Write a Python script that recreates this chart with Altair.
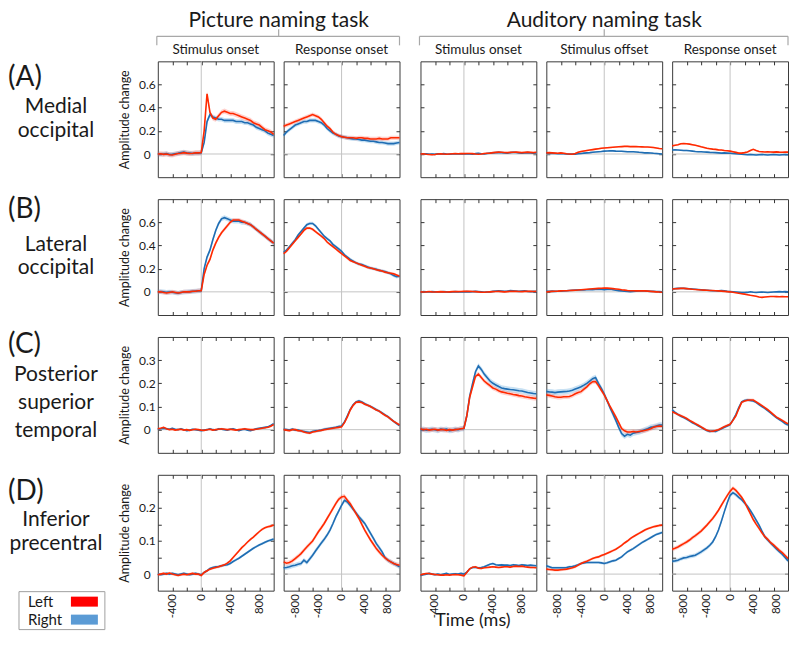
import altair as alt
import pandas as pd

# ---------------- time axes ----------------
T_STIM = list(range(-600, 1001, 40))   # stimulus-onset locked panels
T_LOCK = list(range(-1000, 1001, 50))  # offset / response locked panels

# ---------------- Row A : Medial occipital ----------------
A1_LEFT = [0.0, 0.002, -0.003, 0.0, -0.006, -0.008, -0.002, 0.004, 0.006, 0.012, 0.008, 0.005, 0.006, 0.01, 0.01, 0.012,
           0.2, 0.52, 0.36, 0.31, 0.30, 0.33, 0.36, 0.37, 0.36, 0.35, 0.35, 0.34, 0.33, 0.32, 0.31, 0.30, 0.29, 0.27, 0.26, 0.25, 0.23, 0.21, 0.20, 0.19, 0.17]
A1_RIGHT = [0.0, -0.002, 0.0, 0.003, -0.004, -0.003, 0.002, 0.006, 0.012, 0.016, 0.01, 0.008, 0.004, 0.008, 0.008, 0.01,
            0.1, 0.28, 0.34, 0.32, 0.31, 0.30, 0.30, 0.29, 0.29, 0.29, 0.29, 0.28, 0.28, 0.28, 0.27, 0.27, 0.26, 0.25, 0.23, 0.22, 0.21, 0.20, 0.18, 0.17, 0.16]
A2_LEFT = [0.24, 0.25, 0.26, 0.27, 0.28, 0.29, 0.30, 0.31, 0.32, 0.33, 0.34,
           0.33, 0.32, 0.30, 0.27, 0.24, 0.22, 0.19, 0.17, 0.16, 0.15,
           0.145, 0.14, 0.14, 0.14, 0.135, 0.14, 0.14, 0.135, 0.135, 0.13, 0.13, 0.13, 0.135, 0.13, 0.13, 0.13, 0.14, 0.14, 0.14, 0.14]
A2_RIGHT = [0.16, 0.19, 0.21, 0.23, 0.25, 0.26, 0.27, 0.28, 0.28, 0.29, 0.29,
            0.29, 0.28, 0.27, 0.25, 0.22, 0.20, 0.18, 0.17, 0.155, 0.15,
            0.145, 0.14, 0.135, 0.13, 0.13, 0.125, 0.12, 0.12, 0.115, 0.11, 0.11, 0.105, 0.1, 0.1, 0.095, 0.09, 0.09, 0.09, 0.095, 0.1]
A3_LEFT = [0.0, 0.002, -0.002, -0.004, -0.006, -0.004, 0.0, 0.002, 0.0, -0.002, 0.0, 0.002, 0.003, 0.002, 0.004, 0.003,
           0.004, 0.005, 0.003, 0.0, -0.002, 0.0, 0.004, 0.006, 0.008, 0.012, 0.014, 0.016, 0.015, 0.013, 0.012, 0.014, 0.015, 0.016, 0.014, 0.012, 0.014, 0.016, 0.014, 0.012, 0.015]
A3_RIGHT = [0.002, 0.0, 0.002, -0.002, 0.0, -0.003, 0.002, 0.0, 0.003, 0.0, -0.002, 0.0, 0.002, 0.0, 0.002, 0.0,
            0.002, 0.0, -0.002, 0.003, 0.006, 0.002, 0.0, 0.005, 0.008, 0.01, 0.012, 0.014, 0.012, 0.01, 0.008, 0.012, 0.015, 0.013, 0.01, 0.008, 0.01, 0.012, 0.01, 0.008, 0.01]
A4_LEFT = [0.01, 0.012, 0.01, 0.008, 0.006, 0.01, 0.006, 0.002, 0.0, -0.002,
           0.004, 0.015, 0.022, 0.026, 0.03, 0.034, 0.038, 0.042, 0.046, 0.05,
           0.052, 0.054, 0.056, 0.058, 0.06, 0.062, 0.064, 0.066, 0.066, 0.064,
           0.065, 0.064, 0.063, 0.062, 0.06, 0.06, 0.058, 0.056, 0.052, 0.048, 0.045]
A4_RIGHT = [0.006, 0.004, 0.006, 0.004, 0.002, 0.004, 0.002, 0.0, -0.002, 0.0,
            -0.002, 0.002, 0.005, 0.008, 0.01, 0.012, 0.015, 0.018, 0.02, 0.022,
            0.025, 0.026, 0.028, 0.027, 0.025, 0.024, 0.024, 0.022, 0.02, 0.02,
            0.019, 0.018, 0.015, 0.013, 0.01, 0.01, 0.009, 0.006, 0.004, 0.002, 0.0]
A5_LEFT = [0.07, 0.075, 0.08, 0.088, 0.09, 0.088, 0.085, 0.08, 0.075, 0.07,
           0.062, 0.056, 0.05, 0.046, 0.042, 0.04, 0.036, 0.034, 0.03, 0.028,
           0.025, 0.02, 0.014, 0.008, 0.008, 0.012, 0.018, 0.03, 0.04, 0.03,
           0.022, 0.02, 0.018, 0.02, 0.018, 0.016, 0.018, 0.016, 0.015, 0.016, 0.016]
A5_RIGHT = [0.035, 0.036, 0.034, 0.032, 0.03, 0.03, 0.028, 0.025, 0.022, 0.02,
            0.02, 0.018, 0.016, 0.014, 0.013, 0.012, 0.01, 0.008, 0.01, 0.008,
            0.006, 0.004, 0.002, 0.0, -0.002, -0.004, -0.006, -0.004, -0.006, -0.008,
            -0.006, -0.004, -0.006, -0.008, -0.006, -0.005, -0.006, -0.008, -0.006, -0.005, -0.006]

# ---------------- Row B : Lateral occipital ----------------
B1_LEFT = [0.0, 0.0, -0.005, -0.01, -0.005, 0.0, -0.005, -0.01, -0.005, 0.0, 0.0, 0.0, 0.005, 0.005, 0.01, 0.01,
           0.15, 0.23, 0.28, 0.36, 0.42, 0.47, 0.51, 0.54, 0.57, 0.6, 0.62, 0.62, 0.62, 0.61,
           0.6, 0.59, 0.58, 0.56, 0.54, 0.52, 0.5, 0.48, 0.46, 0.44, 0.42]
B1_RIGHT = [0.0, 0.002, 0.0, -0.005, -0.002, -0.004, -0.008, -0.012, -0.006, -0.002, 0.0, 0.002, 0.004, 0.006, 0.008, 0.01,
            0.2, 0.3, 0.36, 0.45, 0.53, 0.59, 0.63, 0.64, 0.63, 0.62, 0.61, 0.61, 0.61, 0.6,
            0.6, 0.59, 0.58, 0.56, 0.54, 0.52, 0.5, 0.48, 0.46, 0.44, 0.42]
B2_LEFT = [0.33, 0.35, 0.38, 0.41, 0.44, 0.47, 0.5, 0.53, 0.55, 0.55,
           0.54, 0.52, 0.5, 0.48, 0.46, 0.43, 0.41, 0.39, 0.37, 0.35,
           0.33, 0.31, 0.29, 0.27, 0.26, 0.25, 0.24, 0.23, 0.22, 0.21,
           0.205, 0.2, 0.19, 0.185, 0.18, 0.17, 0.165, 0.16, 0.155, 0.145, 0.135]
B2_RIGHT = [0.34, 0.36, 0.39, 0.42, 0.45, 0.49, 0.52, 0.55, 0.58, 0.59,
            0.59, 0.57, 0.54, 0.51, 0.48, 0.46, 0.44, 0.41, 0.39, 0.37,
            0.35, 0.32, 0.3, 0.28, 0.265, 0.25, 0.24, 0.235, 0.225, 0.215,
            0.205, 0.2, 0.195, 0.185, 0.18, 0.175, 0.165, 0.155, 0.14, 0.13, 0.135]
B3_LEFT = [0.0, -0.002, 0.0, 0.003, 0.0, -0.002, 0.0, 0.002, 0.0, -0.002, 0.0, 0.002, 0.003, 0.002, 0.003, 0.004,
           0.004, 0.005, 0.003, 0.002, 0.0, -0.003, -0.004, -0.002, 0.0, 0.002, 0.003, 0.004, 0.002, 0.0,
           0.002, 0.004, 0.005, 0.004, 0.003, 0.002, 0.004, 0.005, 0.004, 0.003, 0.004]
B3_RIGHT = [-0.003, 0.002, 0.0, -0.002, 0.002, 0.0, -0.002, 0.0, 0.002, 0.0, -0.003, 0.0, 0.002, 0.0, -0.002, 0.0,
            0.002, 0.0, 0.002, 0.004, 0.002, 0.0, -0.004, -0.002, 0.0, 0.004, 0.006, 0.008, 0.006, 0.004,
            0.006, 0.01, 0.008, 0.006, 0.004, 0.006, 0.008, 0.004, 0.002, 0.004, 0.002]
B4_LEFT = [0.0, 0.002, 0.004, 0.005, 0.006, 0.008, 0.01, 0.01, 0.012, 0.013,
           0.014, 0.016, 0.018, 0.02, 0.022, 0.024, 0.026, 0.028, 0.03, 0.031,
           0.032, 0.032, 0.03, 0.028, 0.025, 0.022, 0.018, 0.015, 0.012, 0.01,
           0.01, 0.008, 0.008, 0.01, 0.008, 0.006, 0.004, 0.002, 0.0, -0.002, -0.004]
B4_RIGHT = [0.005, 0.004, 0.006, 0.004, 0.005, 0.006, 0.008, 0.01, 0.012, 0.014,
            0.015, 0.016, 0.018, 0.016, 0.018, 0.02, 0.018, 0.02, 0.022, 0.02,
            0.018, 0.02, 0.022, 0.018, 0.014, 0.01, 0.008, 0.005, 0.004, 0.002,
            0.004, 0.006, 0.008, 0.01, 0.008, 0.006, 0.004, 0.004, 0.002, 0.002, 0.0]
B5_LEFT = [0.024, 0.026, 0.028, 0.03, 0.03, 0.028, 0.025, 0.022, 0.02, 0.018,
           0.016, 0.015, 0.014, 0.012, 0.011, 0.01, 0.008, 0.006, 0.004, 0.002,
           0.0, -0.004, -0.008, -0.012, -0.016, -0.02, -0.025, -0.03, -0.034, -0.038,
           -0.044, -0.048, -0.045, -0.042, -0.04, -0.04, -0.041, -0.042, -0.041, -0.042, -0.043]
B5_RIGHT = [0.025, 0.028, 0.03, 0.03, 0.03, 0.028, 0.026, 0.024, 0.022, 0.02,
            0.018, 0.016, 0.014, 0.012, 0.01, 0.009, 0.008, 0.012, 0.008, 0.004,
            0.002, 0.0, -0.002, -0.004, -0.006, -0.006, -0.005, 0.0, -0.004, -0.006,
            -0.004, -0.002, -0.004, -0.006, -0.004, -0.002, 0.0, 0.002, 0.0, 0.002, 0.0]

# ---------------- Row C : Posterior superior temporal ----------------
C1_LEFT = [0.004, 0.006, 0.01, 0.004, 0.0, 0.002, -0.002, 0.0, 0.002, -0.002, 0.0, -0.003, 0.0, 0.002, 0.0, -0.002,
           -0.003, 0.0, 0.002, -0.002, 0.0, 0.002, 0.004, 0.002, 0.0, 0.002, 0.0, -0.002, 0.0, 0.002,
           0.004, 0.002, 0.0, 0.0, 0.002, 0.004, 0.006, 0.008, 0.01, 0.015, 0.022]
C1_RIGHT = [0.002, 0.004, 0.006, 0.004, 0.002, 0.006, 0.002, 0.0, 0.004, 0.0, -0.004, -0.002, 0.002, 0.0, -0.002, -0.004,
            -0.002, 0.0, 0.004, 0.0, -0.002, 0.004, 0.002, 0.0, -0.002, 0.002, 0.004, 0.0, -0.004, 0.0,
            0.002, -0.002, -0.004, 0.0, 0.004, 0.006, 0.008, 0.01, 0.012, 0.018, 0.026]
C2_LEFT = [0.0, -0.002, -0.004, 0.0, 0.0, -0.004, -0.005, -0.01, -0.013, -0.015,
           -0.01, -0.008, -0.005, -0.003, 0.0, 0.002, 0.004, 0.006, 0.008, 0.01,
           0.012, 0.03, 0.055, 0.085, 0.105, 0.118, 0.12, 0.117, 0.11, 0.105,
           0.1, 0.092, 0.085, 0.08, 0.07, 0.062, 0.055, 0.045, 0.036, 0.028, 0.02]
C2_RIGHT = [0.002, 0.0, -0.002, 0.002, -0.002, -0.002, -0.006, -0.008, -0.01, -0.012,
            -0.008, -0.005, -0.004, -0.002, 0.002, 0.004, 0.006, 0.008, 0.01, 0.014,
            0.016, 0.033, 0.06, 0.088, 0.108, 0.12, 0.124, 0.12, 0.112, 0.106,
            0.1, 0.094, 0.086, 0.08, 0.072, 0.064, 0.056, 0.046, 0.036, 0.026, 0.018]
C3_LEFT = [0.004, 0.0, 0.002, -0.002, 0.0, 0.002, -0.002, 0.0, 0.0, -0.003, 0.0, -0.002, 0.0, 0.002, 0.004, 0.006,
           0.06, 0.14, 0.185, 0.23, 0.24, 0.225, 0.21, 0.2, 0.19, 0.18, 0.175, 0.168, 0.163, 0.16,
           0.157, 0.155, 0.152, 0.15, 0.147, 0.145, 0.142, 0.14, 0.138, 0.136, 0.135]
C3_RIGHT = [0.0, 0.002, -0.002, 0.0, 0.002, 0.0, -0.003, 0.002, 0.0, 0.002, -0.004, -0.002, 0.002, 0.0, 0.004, 0.005,
            0.06, 0.145, 0.2, 0.25, 0.275, 0.26, 0.24, 0.225, 0.21, 0.2, 0.193, 0.186, 0.18, 0.177,
            0.175, 0.173, 0.172, 0.17, 0.168, 0.167, 0.164, 0.16, 0.158, 0.156, 0.155]
C4_LEFT = [0.15, 0.148, 0.145, 0.142, 0.14, 0.14, 0.142, 0.142, 0.143, 0.148,
           0.155, 0.16, 0.164, 0.175, 0.185, 0.198, 0.207, 0.208, 0.19, 0.17,
           0.15, 0.125, 0.1, 0.078, 0.055, 0.03, 0.005, -0.005, -0.01, -0.01,
           -0.008, -0.01, -0.008, -0.006, -0.004, 0.0, 0.004, 0.01, 0.014, 0.016, 0.015]
C4_RIGHT = [0.165, 0.163, 0.162, 0.16, 0.162, 0.163, 0.164, 0.165, 0.167, 0.17,
            0.175, 0.18, 0.185, 0.192, 0.2, 0.21, 0.22, 0.225, 0.2, 0.178,
            0.154, 0.125, 0.095, 0.068, 0.04, 0.01, -0.017, -0.028, -0.02, -0.024,
            -0.015, -0.012, -0.01, -0.006, 0.0, 0.004, 0.01, 0.012, 0.016, 0.02, 0.02]
C5_LEFT = [0.077, 0.072, 0.065, 0.06, 0.055, 0.048, 0.04, 0.033, 0.026, 0.019,
           0.012, 0.004, -0.003, -0.006, -0.007, -0.004, 0.0, 0.006, 0.013, 0.018,
           0.023, 0.04, 0.06, 0.09, 0.118, 0.124, 0.127, 0.128, 0.128, 0.12,
           0.112, 0.104, 0.095, 0.086, 0.076, 0.065, 0.054, 0.047, 0.04, 0.032, 0.025]
C5_RIGHT = [0.085, 0.075, 0.066, 0.058, 0.052, 0.046, 0.038, 0.03, 0.024, 0.017,
            0.01, 0.003, -0.004, -0.008, -0.006, -0.008, -0.002, 0.004, 0.01, 0.016,
            0.022, 0.042, 0.065, 0.095, 0.12, 0.126, 0.128, 0.126, 0.124, 0.118,
            0.108, 0.1, 0.092, 0.082, 0.072, 0.062, 0.052, 0.044, 0.036, 0.026, 0.02]

# ---------------- Row D : Inferior precentral ----------------
D1_LEFT = [-0.002, 0.0, 0.002, 0.0, 0.003, 0.0, -0.002, -0.004, -0.002, 0.0, -0.002, 0.0, 0.002, 0.0, 0.0, -0.004,
           0.005, 0.01, 0.015, 0.018, 0.02, 0.022, 0.025, 0.028, 0.033, 0.04, 0.05, 0.06, 0.07, 0.08,
           0.088, 0.097, 0.105, 0.112, 0.12, 0.128, 0.135, 0.14, 0.143, 0.145, 0.148]
D1_RIGHT = [0.0, -0.002, 0.0, 0.002, 0.0, 0.002, 0.0, -0.002, 0.0, 0.002, 0.0, -0.002, 0.0, 0.002, 0.0, -0.002,
            0.005, 0.01, 0.017, 0.02, 0.022, 0.023, 0.025, 0.027, 0.028, 0.032, 0.038, 0.043, 0.048, 0.054,
            0.06, 0.066, 0.072, 0.078, 0.083, 0.088, 0.092, 0.096, 0.1, 0.103, 0.106]
D2_LEFT = [0.037, 0.033, 0.035, 0.04, 0.047, 0.054, 0.062, 0.072, 0.082, 0.091,
           0.1, 0.114, 0.128, 0.14, 0.153, 0.168, 0.183, 0.198, 0.213, 0.226,
           0.233, 0.235, 0.223, 0.213, 0.198, 0.183, 0.168, 0.15, 0.133, 0.118,
           0.103, 0.09, 0.077, 0.067, 0.057, 0.049, 0.042, 0.037, 0.032, 0.029, 0.027]
D2_RIGHT = [0.019, 0.02, 0.022, 0.025, 0.027, 0.03, 0.032, 0.042, 0.035, 0.046,
            0.057, 0.07, 0.082, 0.094, 0.105, 0.118, 0.133, 0.152, 0.173, 0.19,
            0.208, 0.223, 0.218, 0.207, 0.196, 0.185, 0.173, 0.163, 0.153, 0.138,
            0.123, 0.108, 0.092, 0.08, 0.067, 0.05, 0.042, 0.037, 0.032, 0.027, 0.022]
D3_LEFT = [-0.003, 0.0, 0.002, 0.002, 0.0, -0.001, -0.002, -0.003, -0.003, -0.002, -0.003, -0.002, -0.001, -0.002, -0.003, -0.005,
           0.005, 0.016, 0.021, 0.022, 0.018, 0.017, 0.019, 0.02, 0.021, 0.022, 0.021, 0.02, 0.021, 0.022,
           0.022, 0.021, 0.023, 0.024, 0.023, 0.024, 0.022, 0.021, 0.02, 0.02, 0.019]
D3_RIGHT = [-0.004, -0.002, 0.0, 0.002, 0.0, -0.002, 0.0, -0.002, 0.0, 0.002, -0.001, 0.0, 0.001, 0.0, 0.002, 0.0,
            0.006, 0.016, 0.02, 0.02, 0.019, 0.02, 0.022, 0.026, 0.03, 0.032, 0.028, 0.027, 0.028, 0.027,
            0.027, 0.026, 0.028, 0.027, 0.026, 0.028, 0.027, 0.026, 0.027, 0.026, 0.025]
D4_LEFT = [0.015, 0.014, 0.013, 0.012, 0.012, 0.013, 0.014, 0.015, 0.017, 0.019,
           0.022, 0.027, 0.032, 0.036, 0.039, 0.043, 0.047, 0.05, 0.052, 0.056,
           0.059, 0.063, 0.067, 0.071, 0.075, 0.081, 0.087, 0.094, 0.1, 0.107,
           0.113, 0.118, 0.123, 0.128, 0.133, 0.137, 0.14, 0.143, 0.145, 0.147, 0.148]
D4_RIGHT = [0.025, 0.022, 0.019, 0.019, 0.019, 0.019, 0.019, 0.02, 0.022, 0.023,
            0.025, 0.028, 0.032, 0.034, 0.035, 0.035, 0.035, 0.035, 0.035, 0.034,
            0.032, 0.034, 0.037, 0.04, 0.042, 0.047, 0.052, 0.06, 0.067, 0.072,
            0.077, 0.083, 0.089, 0.095, 0.1, 0.105, 0.11, 0.115, 0.12, 0.123, 0.126]
D5_LEFT = [0.075, 0.078, 0.082, 0.087, 0.092, 0.097, 0.103, 0.11, 0.116, 0.123,
           0.13, 0.139, 0.148, 0.158, 0.168, 0.18, 0.193, 0.208, 0.223, 0.237,
           0.25, 0.26, 0.253, 0.243, 0.232, 0.218, 0.2, 0.183, 0.165, 0.151,
           0.138, 0.125, 0.113, 0.105, 0.095, 0.088, 0.08, 0.072, 0.065, 0.056, 0.047]
D5_RIGHT = [0.039, 0.04, 0.042, 0.046, 0.049, 0.05, 0.053, 0.055, 0.057, 0.062,
            0.067, 0.073, 0.079, 0.087, 0.097, 0.113, 0.133, 0.16, 0.188, 0.215,
            0.238, 0.246, 0.24, 0.232, 0.225, 0.215, 0.205, 0.192, 0.178, 0.163,
            0.148, 0.13, 0.113, 0.103, 0.094, 0.085, 0.076, 0.068, 0.06, 0.05, 0.04]

# standard-error half widths, panels A1..A5, B1..B5, C1..C5, D1..D5
SE_LEFT = [0.022, 0.018, 0.006, 0.006, 0.006, 0.018, 0.012, 0.005, 0.005, 0.005,
           0.004, 0.006, 0.01, 0.01, 0.006, 0.004, 0.007, 0.003, 0.004, 0.006]
SE_RIGHT = [0.02, 0.018, 0.006, 0.006, 0.006, 0.02, 0.014, 0.005, 0.005, 0.005,
            0.004, 0.006, 0.012, 0.012, 0.006, 0.004, 0.007, 0.003, 0.004, 0.006]

# ---------------- text ----------------
ROW_LETTERS = ["(A)", "(B)", "(C)", "(D)"]
ROW_NAMES = ["Medial\noccipital", "Lateral\noccipital", "Posterior\nsuperior\ntemporal", "Inferior\nprecentral"]
COL_TITLES = ["Stimulus onset", "Response onset", "Stimulus onset", "Stimulus offset", "Response onset"]
TASK_TITLES = ["Picture naming task", "Auditory naming task"]
SERIES = ["Left", "Right"]
Y_TITLE = "Amplitude change"
X_TITLE = "Time (ms)"

X_LABELS_STIM = [-400, 0, 400, 800]
X_LABELS_LOCK = [-800, -400, 0, 400, 800]
X_TICKS_STIM = [-400, -200, 0, 200, 400, 600, 800]
X_TICKS_LOCK = [-750, -500, -250, 0, 250, 500, 750]
Y_DOMAINS = [[-0.2, 0.8], [-0.2, 0.8], [-0.1, 0.4], [-0.05, 0.3]]
Y_LABELS = [[0, 0.2, 0.4, 0.6], [0, 0.2, 0.4, 0.6], [0, 0.1, 0.2, 0.3], [0, 0.1, 0.2]]
Y_TICKS = [[0, 0.2, 0.4, 0.6], [0, 0.2, 0.4, 0.6], [0, 0.1, 0.2, 0.3], [0, 0.05, 0.1, 0.15, 0.2, 0.25]]

PANEL_LEFT = [[A1_LEFT, A2_LEFT, A3_LEFT, A4_LEFT, A5_LEFT],
              [B1_LEFT, B2_LEFT, B3_LEFT, B4_LEFT, B5_LEFT],
              [C1_LEFT, C2_LEFT, C3_LEFT, C4_LEFT, C5_LEFT],
              [D1_LEFT, D2_LEFT, D3_LEFT, D4_LEFT, D5_LEFT]]
PANEL_RIGHT = [[A1_RIGHT, A2_RIGHT, A3_RIGHT, A4_RIGHT, A5_RIGHT],
               [B1_RIGHT, B2_RIGHT, B3_RIGHT, B4_RIGHT, B5_RIGHT],
               [C1_RIGHT, C2_RIGHT, C3_RIGHT, C4_RIGHT, C5_RIGHT],
               [D1_RIGHT, D2_RIGHT, D3_RIGHT, D4_RIGHT, D5_RIGHT]]

# ---------------- style ----------------
FONT = "Lato"
RED = "#ff2a00"
BLUE = "#1f6db3"
RED_BAND = "#ff4a3a"
BLUE_BAND = "#4a9ad8"
LEG_RED = "#ff0000"
LEG_BLUE = "#5b9bd5"
ZERO_GRAY = "#c4c4c4"
TICK_COLOR = "#333333"
TXT = "#1a1a1a"
PW, PH = 116, 116
HEAD_H = 9
ROW_GAP = 22
LABEL_W = 140
COL_GAP = 10
GAP_W = 1
TK = 3.5
NOSTROKE = alt.ViewBackground(strokeOpacity=0)


def series_df(times, vals, se, name):
    assert len(times) == len(vals), (name, len(vals))
    return pd.DataFrame({"t": times, "v": vals,
                         "lo": [v - se for v in vals], "hi": [v + se for v in vals],
                         "series": name})


def tick_axis(orient, values):
    return alt.Axis(orient=orient, values=values, labels=False, domain=False, grid=False,
                    tickSize=TK, offset=-TK, tickColor=TICK_COLOR, tickWidth=1, title=None)


def panel(r, c):
    stim = c in (0, 2)
    times = T_STIM if stim else T_LOCK
    idx = r * 5 + c
    dl = series_df(times, PANEL_LEFT[r][c], SE_LEFT[idx], "Left")
    dr = series_df(times, PANEL_RIGHT[r][c], SE_RIGHT[idx], "Right")
    xs = alt.Scale(domain=[-600, 1000] if stim else [-1000, 1000], nice=False, zero=False)
    ys = alt.Scale(domain=Y_DOMAINS[r], nice=False, zero=False)
    xticks = X_TICKS_STIM if stim else X_TICKS_LOCK
    xlabels = X_LABELS_STIM if stim else X_LABELS_LOCK

    if r == 3:
        x_lab_axis = alt.Axis(orient="bottom", values=xlabels, ticks=False, tickSize=0, domain=False,
                              grid=False, labelAngle=270, labelPadding=3, labelFontSize=11.5,
                              labelColor=TXT, labelExpr="datum.value", title=None)
    else:
        x_lab_axis = None
    if c == 0:
        y_lab_axis = alt.Axis(orient="left", values=Y_LABELS[r], ticks=False, tickSize=0, domain=False,
                              grid=False, labelAlign="center", labelPadding=11, labelFontSize=12,
                              labelColor=TXT, labelExpr="datum.value", title=Y_TITLE,
                              titleFontSize=12.5, titleFontWeight="normal", titleColor=TXT,
                              titlePadding=7)
    else:
        y_lab_axis = None

    vrule = alt.Chart(pd.DataFrame({"t": [0]})).mark_rule(color=ZERO_GRAY, strokeWidth=1).encode(
        x=alt.X("t:Q", scale=xs, axis=tick_axis("bottom", xticks)))
    hrule = alt.Chart(pd.DataFrame({"v": [0]})).mark_rule(color=ZERO_GRAY, strokeWidth=1).encode(
        y=alt.Y("v:Q", scale=ys, axis=tick_axis("left", Y_TICKS[r])))
    band_r = alt.Chart(dr).mark_area(color=BLUE_BAND, opacity=0.3).encode(
        x=alt.X("t:Q", scale=xs, axis=x_lab_axis),
        y=alt.Y("lo:Q", scale=ys, axis=y_lab_axis), y2="hi:Q")
    band_l = alt.Chart(dl).mark_area(color=RED_BAND, opacity=0.25).encode(
        x=alt.X("t:Q", scale=xs, axis=None), y=alt.Y("lo:Q", scale=ys, axis=None), y2="hi:Q")
    line_r = alt.Chart(dr).mark_line(color=BLUE, strokeWidth=1.6).encode(
        x=alt.X("t:Q", scale=xs, axis=tick_axis("top", xticks)),
        y=alt.Y("v:Q", scale=ys, axis=tick_axis("right", Y_TICKS[r])))
    line_l = alt.Chart(dl).mark_line(color=RED, strokeWidth=1.6).encode(
        x=alt.X("t:Q", scale=xs, axis=None), y=alt.Y("v:Q", scale=ys, axis=None))

    return alt.layer(vrule, hrule, band_r, band_l, line_r, line_l).resolve_axis(
        x="independent", y="independent").properties(width=PW, height=PH)


def spacer(w, h):
    return alt.Chart(pd.DataFrame({"k": [0]})).mark_text(text="").encode(
        x=alt.value(0), y=alt.value(0)).properties(width=w, height=h, view=NOSTROKE)


def header_cell(c):
    """Header cell above panel column c: column title, plus bracket and task title for the first
    column of each task group."""
    layers = [
        alt.Chart(pd.DataFrame({"title": [COL_TITLES[c]]})).mark_text(
            fontSize=13.5, baseline="alphabetic", align="center", color=TXT).encode(
            x=alt.value(PW / 2), y=alt.value(HEAD_H + ROW_GAP - 7), text="title:N")
    ]
    if c in (0, 2):
        i = 0 if c == 0 else 1
        ncols = 2 if c == 0 else 3
        w = ncols * PW + (ncols - 1) * COL_GAP
        base = alt.Chart(pd.DataFrame({"k": [0]}))
        col = "#a8a8a8"
        sw = 1.2
        layers += [
            # transparent top margin so the task title's glyphs are not clipped
            base.mark_rule(strokeOpacity=0).encode(x=alt.value(0), x2=alt.value(1), y=alt.value(-22)),
            base.mark_rule(color=col, strokeWidth=sw).encode(x=alt.value(-1), x2=alt.value(w), y=alt.value(6)),
            base.mark_rule(color=col, strokeWidth=sw).encode(x=alt.value(-1), y=alt.value(6), y2=alt.value(15)),
            base.mark_rule(color=col, strokeWidth=sw).encode(x=alt.value(w), y=alt.value(6), y2=alt.value(15)),
            base.mark_rule(color=col, strokeWidth=sw).encode(x=alt.value(w / 2), y=alt.value(-1), y2=alt.value(6)),
            alt.Chart(pd.DataFrame({"task": [TASK_TITLES[i]]})).mark_text(
                fontSize=21, baseline="alphabetic", align="center", color=TXT).encode(
                x=alt.value(w / 2), y=alt.value(-3), text="task:N"),
        ]
    return alt.layer(*layers).properties(width=PW, height=HEAD_H, view=NOSTROKE)


LETTER_Y = [17, 11, 8, 17]
NAME_Y = [52, 52, 44, 51]
NAME_LH = [24, 23, 28, 24]
LEGEND_Y = [127, 145]


def label_chart(r, with_legend=False):
    d = pd.DataFrame({"letter": [ROW_LETTERS[r]], "name": [ROW_NAMES[r]]})
    b = alt.Chart(d)
    layers = [
        b.mark_text(align="left", baseline="middle", fontSize=28, color=TXT).encode(
            x=alt.value(0), y=alt.value(LETTER_Y[r]), text="letter:N"),
        b.mark_text(align="center", baseline="alphabetic", fontSize=21, color=TXT, lineBreak="\n",
                    lineHeight=NAME_LH[r]).encode(x=alt.value(48), y=alt.value(NAME_Y[r]), text="name:N"),
    ]
    if with_legend:
        layers.append(
            alt.Chart(pd.DataFrame({"k": [0]})).mark_rect(fill="white", stroke="#a0a0a0", strokeWidth=1).encode(
                x=alt.value(11), x2=alt.value(97), y=alt.value(117), y2=alt.value(155)))
        for name, col, yy in zip(SERIES, [LEG_RED, LEG_BLUE], LEGEND_Y):
            ld = pd.DataFrame({"series": [name]})
            layers.append(alt.Chart(ld).mark_text(align="left", baseline="middle", fontSize=15, color=TXT).encode(
                x=alt.value(20), y=alt.value(yy), text="series:N"))
            layers.append(alt.Chart(ld).mark_rule(strokeWidth=10, strokeCap="butt", color=col).encode(
                x=alt.value(63), x2=alt.value(90), y=alt.value(yy)))
    return alt.layer(*layers).properties(width=LABEL_W, height=PH, view=NOSTROKE)


# "Time (ms)" centred under the five panels, drawn from the middle panel's cell
TOTAL_W = 5 * PW + 5 * COL_GAP + GAP_W
time_chart = alt.Chart(pd.DataFrame({"title": [X_TITLE]})).mark_text(
    fontSize=18, baseline="alphabetic", color=TXT).encode(
    x=alt.value(TOTAL_W / 2 - (2 * PW + 3 * COL_GAP + GAP_W)), y=alt.value(13),
    text="title:N").properties(width=PW, height=1, view=NOSTROKE)

# flat grid: columns = label | p1 | p2 | gap | p3 | p4 | p5
cells = []
cells += [spacer(LABEL_W, HEAD_H), header_cell(0), header_cell(1), spacer(GAP_W, HEAD_H),
          header_cell(2), header_cell(3), header_cell(4)]
for r in range(4):
    cells += [label_chart(r, with_legend=(r == 3)), panel(r, 0), panel(r, 1), spacer(GAP_W, PH),
              panel(r, 2), panel(r, 3), panel(r, 4)]
cells += [spacer(LABEL_W, 1), spacer(PW, 1), spacer(PW, 1), spacer(GAP_W, 1),
          time_chart, spacer(PW, 1), spacer(PW, 1)]

chart = alt.concat(*cells, columns=7, spacing={"row": ROW_GAP, "column": COL_GAP},
                   align="each", bounds="flush").properties(padding=0).configure(
    font=FONT).configure_view(stroke="#3a3a3a", strokeWidth=1)

chart.save("out.html", embed_options={"renderer": "svg", "actions": False})
